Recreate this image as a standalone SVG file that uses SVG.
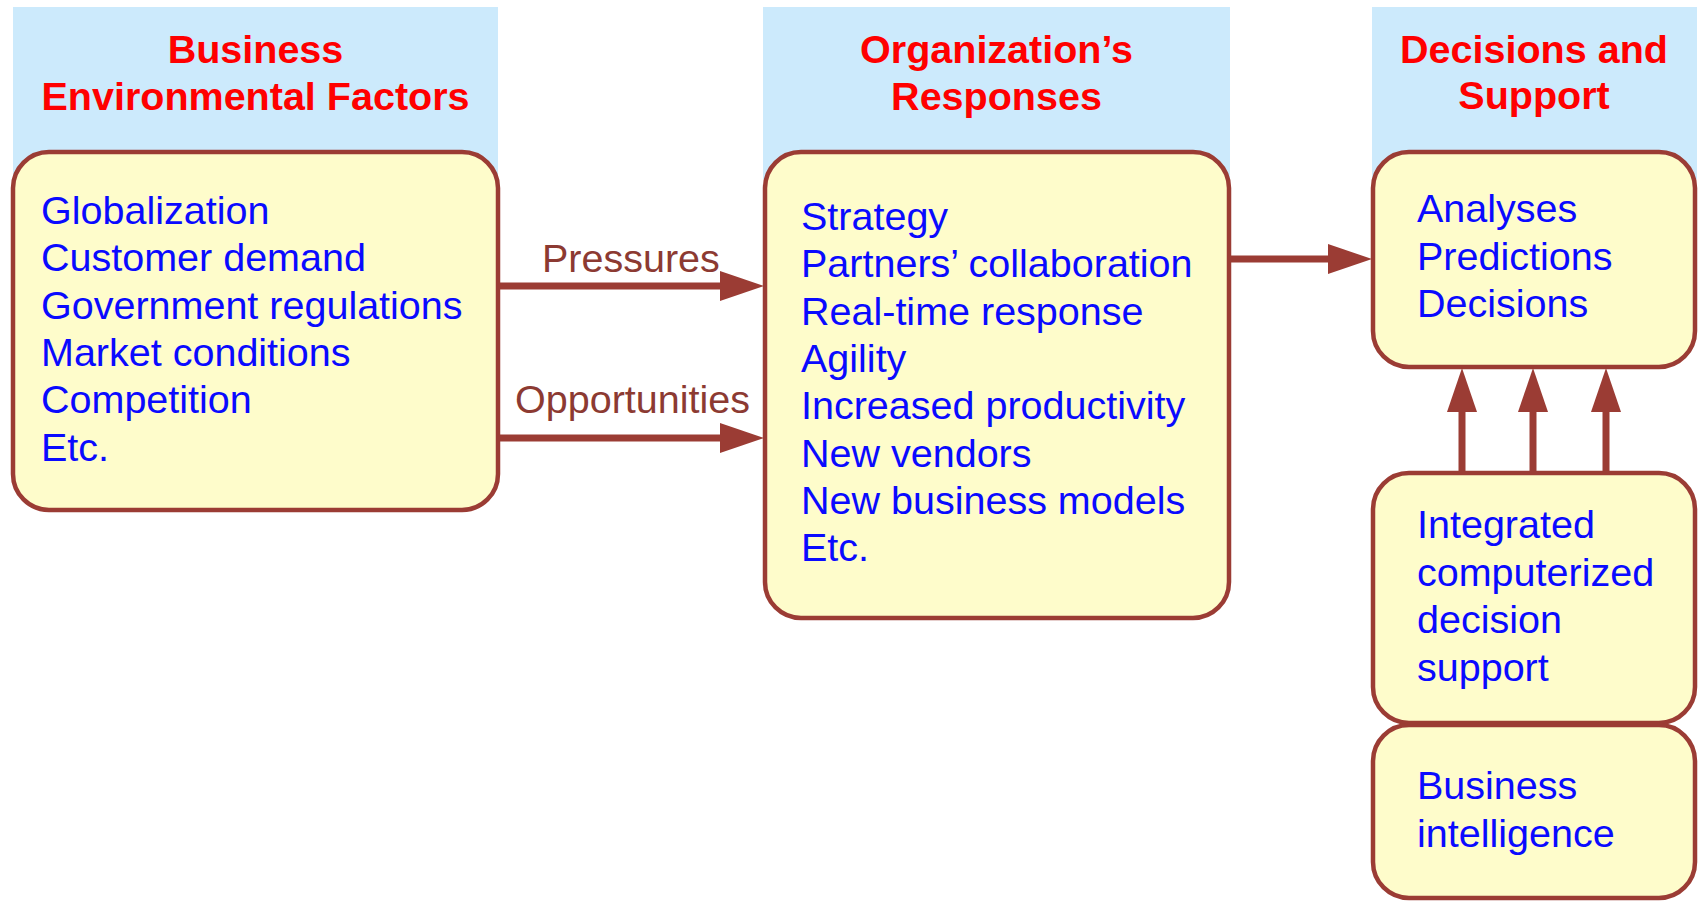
<svg xmlns="http://www.w3.org/2000/svg" width="1701" height="901" viewBox="0 0 1701 901">
<defs>
<style>
.hdr{fill:#cceafc}
.box{fill:#fefccb;stroke:#9b3c34;stroke-width:4.5}
.ht{font-family:"Liberation Sans",Arial,sans-serif;font-weight:bold;font-size:39.5px;fill:#ff0000;text-anchor:middle}
.bt{font-family:"Liberation Sans",Arial,sans-serif;font-size:39.5px;fill:#0a0aff}
.lb{font-family:"Liberation Sans",Arial,sans-serif;font-size:39.5px;fill:#8c3a32}
.conn{stroke:#9b3c34;stroke-width:7;fill:none}
</style>
<marker id="ah" markerUnits="userSpaceOnUse" markerWidth="44" markerHeight="30" refX="4" refY="15" orient="auto">
<path d="M0,0 L44,15 L0,30 z" fill="#9b3c34"/>
</marker>
</defs>
<rect width="1701" height="901" fill="#ffffff"/>

<g id="col-business-environment">
<rect class="hdr" x="13" y="7" width="485" height="172"/>
<text class="ht" x="255.5" y="63">Business</text>
<text class="ht" x="255.5" y="110">Environmental Factors</text>
</g>
<g id="col-organization">
<rect class="hdr" x="763" y="7" width="467" height="172"/>
<text class="ht" x="996.5" y="63">Organization’s</text>
<text class="ht" x="996.5" y="110">Responses</text>
</g>
<g id="col-decisions">
<rect class="hdr" x="1372" y="7" width="325" height="172"/>
<text class="ht" x="1534" y="63">Decisions and</text>
<text class="ht" x="1534" y="109">Support</text>
</g>

<g id="connectors">
<line class="conn" x1="497" y1="286" x2="724" y2="286" marker-end="url(#ah)"/>
<line class="conn" x1="497" y1="438" x2="724" y2="438" marker-end="url(#ah)"/>
<line class="conn" x1="1230" y1="259" x2="1332" y2="259" marker-end="url(#ah)"/>
<line class="conn" x1="1462" y1="473" x2="1462" y2="408" marker-end="url(#ah)"/>
<line class="conn" x1="1533" y1="473" x2="1533" y2="408" marker-end="url(#ah)"/>
<line class="conn" x1="1606" y1="473" x2="1606" y2="408" marker-end="url(#ah)"/>
<text class="lb" x="542" y="272">Pressures</text>
<text class="lb" x="515" y="413">Opportunities</text>
</g>

<g id="node-factors">
<rect class="box" x="13" y="152" width="485" height="358" rx="36" ry="36"/>
<text class="bt" x="41" y="224">Globalization</text>
<text class="bt" x="41" y="271.3">Customer demand</text>
<text class="bt" x="41" y="318.6">Government regulations</text>
<text class="bt" x="41" y="365.9">Market conditions</text>
<text class="bt" x="41" y="413.2">Competition</text>
<text class="bt" x="41" y="460.5">Etc.</text>
</g>

<g id="node-responses">
<rect class="box" x="765" y="152" width="464" height="466" rx="36" ry="36"/>
<text class="bt" x="801" y="230">Strategy</text>
<text class="bt" x="801" y="277.3">Partners’ collaboration</text>
<text class="bt" x="801" y="324.6">Real-time response</text>
<text class="bt" x="801" y="371.9">Agility</text>
<text class="bt" x="801" y="419.2">Increased productivity</text>
<text class="bt" x="801" y="466.5">New vendors</text>
<text class="bt" x="801" y="513.8">New business models</text>
<text class="bt" x="801" y="561.1">Etc.</text>
</g>

<g id="node-decisions">
<rect class="box" x="1373" y="152" width="322" height="215" rx="36" ry="36"/>
<text class="bt" x="1417" y="222">Analyses</text>
<text class="bt" x="1417" y="269.5">Predictions</text>
<text class="bt" x="1417" y="317">Decisions</text>
</g>

<g id="node-dss">
<rect class="box" x="1373" y="473" width="322" height="250" rx="36" ry="36"/>
<text class="bt" x="1417" y="538">Integrated</text>
<text class="bt" x="1417" y="585.5">computerized</text>
<text class="bt" x="1417" y="633">decision</text>
<text class="bt" x="1417" y="680.5">support</text>
</g>

<g id="node-bi">
<rect class="box" x="1373" y="725" width="322" height="173" rx="36" ry="36"/>
<text class="bt" x="1417" y="799">Business</text>
<text class="bt" x="1417" y="847">intelligence</text>
</g>
</svg>
